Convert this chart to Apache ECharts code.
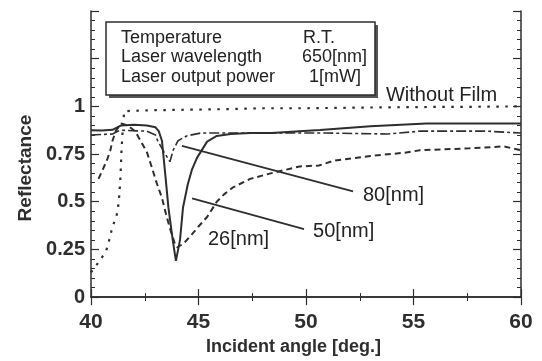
<!DOCTYPE html>
<html><head><meta charset="utf-8">
<script src="https://cdn.jsdelivr.net/npm/echarts@6/dist/echarts.min.js"></script>
<style>html,body{margin:0;padding:0;background:#fff}#c{width:542px;height:361px}</style>
</head><body><div id="c"></div>
<script>
// Data (incident angle [deg.], reflectance)
const withoutFilm = [[40,0.13],[40.4,0.19],[40.7,0.24],[40.85,0.30],[41.0,0.37],[41.18,0.42],[41.27,0.48],[41.32,0.54],[41.36,0.61],[41.39,0.68],[41.41,0.75],[41.45,0.83],[41.49,0.91],[41.55,0.975],[43,0.98],[46,0.985],[48,0.99],[50,0.99],[52,0.993],[54,0.995],[56,0.997],[58,0.998],[60,1.0]];
const film26 = [[40.35,0.62],[40.55,0.67],[40.75,0.72],[40.9,0.77],[41.0,0.82],[41.15,0.87],[41.4,0.91],[41.7,0.90],[42.05,0.87],[42.35,0.81],[42.6,0.76],[42.8,0.69],[43.05,0.60],[43.3,0.52],[43.5,0.43],[43.7,0.35],[43.9,0.28],[44.0,0.26],[44.3,0.28],[44.7,0.33],[45.0,0.37],[45.4,0.42],[45.85,0.50],[46.2,0.54],[46.6,0.575],[47.4,0.62],[48.4,0.65],[49.7,0.685],[50.6,0.69],[51.3,0.715],[53,0.74],[54.6,0.757],[55.3,0.77],[57.6,0.78],[59.2,0.79],[60,0.77]];
const film50 = [[40,0.875],[40.5,0.873],[41.0,0.877],[41.4,0.90],[42,0.903],[42.6,0.90],[43.0,0.89],[43.15,0.87],[43.3,0.82],[43.44,0.66],[43.6,0.47],[43.8,0.30],[43.95,0.19],[44.14,0.30],[44.28,0.47],[44.5,0.59],[44.7,0.67],[44.93,0.73],[45.4,0.815],[45.85,0.845],[46.5,0.855],[47.4,0.86],[48.4,0.86],[49.7,0.87],[50.65,0.876],[53,0.896],[55.6,0.91],[60,0.91]];
const film80 = [[40,0.85],[41,0.855],[41.35,0.875],[42.6,0.87],[43.0,0.85],[43.1,0.82],[43.4,0.76],[43.67,0.71],[43.82,0.77],[44.05,0.82],[44.45,0.845],[45.1,0.86],[48,0.86],[51,0.86],[53.8,0.855],[55.3,0.87],[58.4,0.87],[60,0.86]];
const leader80 = [[44.23,0.793],[52.19,0.554]];
const leader50 = [[44.70,0.518],[49.91,0.357]];
const labelTexts = ['Without Film','80[nm]','50[nm]','26[nm]'];
const labelPos = [[53.72,1.057],[52.65,0.534],[50.33,0.342],[45.44,0.30]];
const xTicks = [40,45,50,55,60];
const yTicks = [0,0.25,0.5,0.75,1];
const infoKeys = ['Temperature','Laser wavelength','Laser output power'];
const infoVals = ['R.T.','650[nm]','1[mW]'];

const C = '#2e2e2e';
const F = 'Liberation Sans, Arial, sans-serif';
const chart = echarts.init(document.getElementById('c'));
const axisCommon = {
  axisLine:{show:true,lineStyle:{color:C,width:1.5}},
  axisTick:{show:true,inside:true,length:8,lineStyle:{color:C,width:1.2}},
  splitLine:{show:false}
};
function line(data, type, w){
  return {type:'line',data:data,showSymbol:false,symbol:'none',xAxisIndex:0,yAxisIndex:0,
    lineStyle:{color:C,width:w,type:type},z:3,animation:false};
}
const ser = [
  line(withoutFilm,[2.5,6.5],2.2),
  line(film26,[6,4],2),
  line(film50,'solid',2),
  line(film80,[10,3,3,3],1.6),
  line(leader80,'solid',1.8),
  line(leader50,'solid',1.8),
  {type:'scatter',data:labelPos.map((p,i)=>({value:p,name:labelTexts[i]})),symbolSize:0,
   itemStyle:{opacity:1},
   label:{show:true,position:'right',distance:0,formatter:p=>p.name,color:'#222',opacity:1,fontFamily:F,fontSize:20},
   emphasis:{disabled:true},
   animation:false,z:5}
];
const xMinor = {show:true,splitNumber:2,length:4,lineStyle:{color:C,width:1}};
const yMinor = {show:true,splitNumber:5,length:4,lineStyle:{color:C,width:1}};
chart.setOption({
  animation:false,
  grid:{left:91,right:21,top:11,bottom:60,containLabel:false},
  xAxis:[
    Object.assign({},axisCommon,{type:'value',min:40,max:60,interval:5,position:'bottom',
      name:'Incident angle [deg.]',nameLocation:'middle',nameGap:39,
      nameTextStyle:{color:C,fontFamily:F,fontSize:18,fontWeight:'bold',padding:[0,25,0,0]},
      axisLabel:{color:C,fontFamily:F,fontSize:21,fontWeight:'bold',margin:15,
        formatter:v=>xTicks.includes(v)?String(v):''},
      minorTick:xMinor}),
    Object.assign({},axisCommon,{type:'value',min:40,max:60,interval:5,position:'top',axisLabel:{show:false},minorTick:xMinor})
  ],
  yAxis:[
    Object.assign({},axisCommon,{type:'value',min:0,max:1.5,interval:0.25,position:'left',
      name:'Reflectance',nameLocation:'middle',nameGap:56,
      nameTextStyle:{color:C,fontFamily:F,fontSize:19,fontWeight:'bold',padding:[0,28,0,0]},
      axisLabel:{color:C,fontFamily:F,fontSize:20,fontWeight:'bold',margin:6,
        formatter:v=>yTicks.includes(v)?String(v):''},
      minorTick:yMinor}),
    Object.assign({},axisCommon,{type:'value',min:0,max:1.5,interval:0.25,position:'right',axisLabel:{show:false},minorTick:yMinor})
  ],
  series:ser,
  graphic:[
    {type:'rect',shape:{x:109,y:25,width:269,height:73},style:{fill:'#555'},z:10},
    {type:'rect',shape:{x:106,y:22,width:269,height:73},style:{fill:'#fff',stroke:C,lineWidth:1.5},z:11},
    ...infoKeys.map((t,i)=>({type:'text',x:121,y:38+i*19.5,z:12,
      style:{text:t,fill:'#222',font:'18px '+F,textVerticalAlign:'middle'}})),
    ...infoVals.map((t,i)=>({type:'text',x:[303,302,309][i],y:38+i*19.5,z:12,
      style:{text:t,fill:'#222',font:'18px '+F,textVerticalAlign:'middle'}}))
  ]
});
</script></body></html>
